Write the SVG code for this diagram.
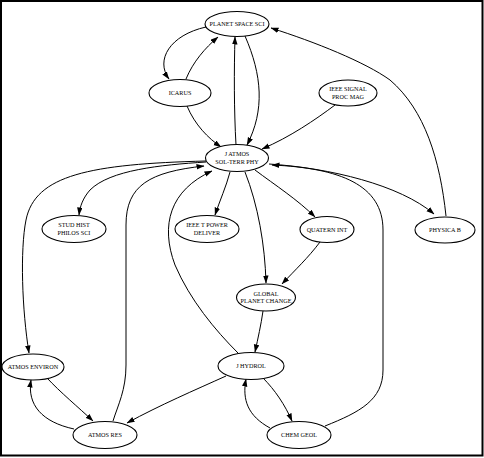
<svg xmlns="http://www.w3.org/2000/svg" width="484" height="458" viewBox="0 0 484 458">
<style>
.n ellipse{fill:#fff;stroke:#000;stroke-width:1.1}
.n text{font-family:"Liberation Serif","Times New Roman",serif;font-size:6.2px;text-anchor:middle;fill:#000}
.e path{fill:none;stroke:#000;stroke-width:1;marker-end:url(#a)}
</style>
<defs>
<marker id="a" markerUnits="userSpaceOnUse" markerWidth="8" markerHeight="6" refX="7.5" refY="2.75" orient="auto">
<path d="M0,0 L8,2.75 L0,5.5 z" fill="#000"/>
</marker>
</defs>
<rect x="1" y="1" width="481.5" height="454.5" fill="#fff" stroke="#000" stroke-width="2"/>
<g class="e" id="edges">
<path d="M206,27 C170,35 155,60 169,79"/>
<path d="M186,79 C193,62 205,48 218,37"/>
<path d="M187,106 C195,125 208,138 221,147"/>
<path d="M236,145 C234,110 234,70 235,37"/>
<path d="M245,36 C262,75 265,110 247,145"/>
<path d="M335,105 C315,120 290,137 262,149"/>
<path d="M446,216 C440,160 425,110 390,80 C365,62 315,42 271,28"/>
<path d="M206,162 C160,165 110,170 90,190 C83,198 80,206 79,215"/>
<path d="M230,172 C226,187 220,200 215,215"/>
<path d="M245,172 C258,205 265,245 266,283"/>
<path d="M255,170 C275,185 298,200 315,217"/>
<path d="M269,164 C330,168 400,185 434,214"/>
<path d="M320,242 C308,258 295,270 282,284"/>
<path d="M263,311 C261,325 258,338 255,352"/>
<path d="M206,161 C90,164 35,175 26,220 C20,250 22,310 29,353"/>
<path d="M113,421 C118,405 126,390 126,365 L126,225 C126,185 150,172 204,166"/>
<path d="M238,353 C215,330 190,300 175,265 C160,225 170,190 212,171"/>
<path d="M325,426 C360,412 383,400 383,370 L383,230 C383,185 340,168 272,165"/>
<path d="M47,378 C60,392 78,407 93,421"/>
<path d="M74,429 C42,422 27,405 31,380"/>
<path d="M226,376 C195,390 160,405 127,423"/>
<path d="M263,378 C275,390 285,405 292,421"/>
<path d="M270,428 C248,416 242,400 246,379"/>
</g>
<g class="n" id="planet_space_sci"><ellipse cx="237" cy="24" rx="32" ry="12.5"/><text x="237" y="26.2">PLANET SPACE SCI</text></g>
<g class="n" id="icarus"><ellipse cx="180" cy="93" rx="31" ry="13.5"/><text x="180" y="95.2">ICARUS</text></g>
<g class="n" id="ieee_signal"><ellipse cx="348" cy="93" rx="29" ry="13"/><text x="348" y="91">IEEE SIGNAL</text><text x="348" y="98.5">PROC MAG</text></g>
<g class="n" id="j_atmos"><ellipse cx="237" cy="158" rx="31.5" ry="13.5"/><text x="237" y="156">J ATMOS</text><text x="237" y="163.5">SOL-TERR PHY</text></g>
<g class="n" id="stud_hist"><ellipse cx="74" cy="229" rx="32" ry="13.5"/><text x="74" y="227">STUD HIST</text><text x="74" y="234.5">PHILOS SCI</text></g>
<g class="n" id="ieee_t_power"><ellipse cx="207" cy="229" rx="32" ry="13.5"/><text x="207" y="227">IEEE T POWER</text><text x="207" y="234.5">DELIVER</text></g>
<g class="n" id="quatern_int"><ellipse cx="327" cy="229.5" rx="27" ry="13"/><text x="327" y="231.7">QUATERN INT</text></g>
<g class="n" id="physica_b"><ellipse cx="445" cy="230" rx="30" ry="13"/><text x="445" y="232.2">PHYSICA B</text></g>
<g class="n" id="global_planet_change"><ellipse cx="266" cy="297.5" rx="29.5" ry="13.5"/><text x="266" y="295.5">GLOBAL</text><text x="266" y="303">PLANET CHANGE</text></g>
<g class="n" id="atmos_environ"><ellipse cx="33" cy="367" rx="31" ry="13"/><text x="33" y="369.2">ATMOS ENVIRON</text></g>
<g class="n" id="j_hydrol"><ellipse cx="251" cy="366" rx="33" ry="13.5"/><text x="251" y="368.2">J HYDROL</text></g>
<g class="n" id="atmos_res"><ellipse cx="105" cy="435" rx="32" ry="13.5"/><text x="105" y="437.2">ATMOS RES</text></g>
<g class="n" id="chem_geol"><ellipse cx="299" cy="435" rx="32" ry="13.5"/><text x="299" y="437.2">CHEM GEOL</text></g>
</svg>
